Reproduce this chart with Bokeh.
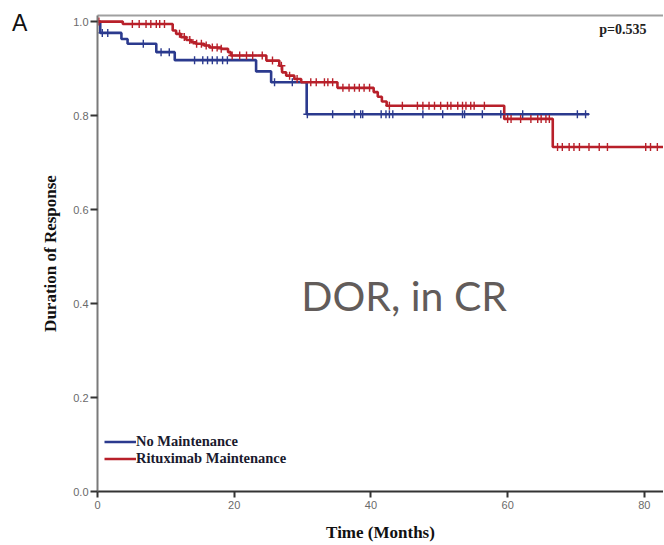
import numpy as np
from bokeh.plotting import figure
from bokeh.models import Range1d, FixedTicker, LinearAxis, Label, Legend, LegendItem
from bokeh.embed import file_html
from bokeh.resources import INLINE

# ---- data ----
blue_t = [0, 0.4, 3.5, 4.4, 8.6, 11.3, 23.2, 25.4, 30.6]
blue_s = [1.0, 0.976, 0.963, 0.953, 0.935, 0.918, 0.894, 0.871, 0.803]
blue_end = 71.9
blue_cens = [0.7, 1.5, 6.7, 9.3, 10.5, 14.2, 15.4, 16.1, 16.8, 17.5, 18.3, 19.0,
             25.9, 28.5, 30.7, 34.4, 37.6, 38.5, 38.8, 41.5, 42.2, 42.7, 43.2,
             47.6, 50.5, 53.4, 53.7, 56.3, 59.0, 62.2, 70.2, 71.4]

red_t = [0, 3.7, 11.0, 11.5, 12.2, 13.0, 13.7, 14.4, 15.6, 16.4, 18.1, 19.1, 19.5,
         24.7, 26.6, 27.0, 27.6, 28.8, 29.8, 35.1, 40.4, 41.0, 41.6, 42.3, 59.5, 66.6]
red_s = [1.0, 0.995, 0.981, 0.974, 0.967, 0.961, 0.956, 0.953, 0.949, 0.945, 0.942, 0.935, 0.928,
         0.917, 0.906, 0.892, 0.885, 0.878, 0.871, 0.859, 0.850, 0.840, 0.830, 0.821, 0.793, 0.733]
red_end = 83.0
red_cens = [0.2, 5.1, 6.1, 7.1, 7.8, 8.6, 9.1, 9.8, 12.0, 12.7, 13.5, 14.5, 15.2, 15.9,
            16.8, 17.5, 18.1, 19.7, 20.8, 21.8, 22.7, 24.1, 25.6, 26.9, 28.1, 29.2,
            31.2, 32.0, 33.2, 33.7, 34.4, 35.9, 36.8, 37.6, 38.3, 39.0, 39.8, 42.7,
            44.6, 46.8, 47.6, 48.5, 49.3, 50.2, 51.2, 51.7, 52.7, 53.4, 53.9, 54.6,
            55.1, 56.6, 60.0, 60.5, 61.9, 63.4, 64.4, 64.9, 65.6, 66.1, 67.3, 68.0,
            69.0, 69.7, 70.5, 71.9, 73.4, 74.6, 80.2, 80.9, 81.9]

x_ticks = [0, 20, 40, 60, 80]
y_ticks = [0.0, 0.2, 0.4, 0.6, 0.8, 1.0]
series_names = ["No Maintenance", "Rituximab Maintenance"]
p_text = "p=0.535"
panel_text = "A"
overlay_text = "DOR, in CR"

BLUE = "#2b3a8e"
RED = "#b8202a"


def step_xy(t, s, end):
    return list(t) + [end], list(s) + [s[-1]]


def level_at(t, s, times):
    idx = np.searchsorted(np.array(t), np.array(times), side="right") - 1
    return [s[i] for i in idx]


p = figure(frame_width=566, frame_height=476, output_backend="svg", toolbar_location=None,
           x_range=Range1d(0, 82.8), y_range=Range1d(0, 1.013),
           min_border_left=97, min_border_right=0, min_border_top=15, min_border_bottom=40)
p.outline_line_color = None
p.xgrid.visible = False
p.ygrid.visible = False
p.background_fill_color = "white"
p.border_fill_color = "white"

bx, by = step_xy(blue_t, blue_s, blue_end)
rx, ry = step_xy(red_t, red_s, red_end)
r_blue = p.step(bx, by, mode="after", line_color=BLUE, line_width=2.6)
r_red = p.step(rx, ry, mode="after", line_color=RED, line_width=2.6)
p.scatter(blue_cens, level_at(blue_t, blue_s, blue_cens), marker="cross", size=8,
          line_color=BLUE, line_width=1.4)
p.scatter(red_cens, level_at(red_t, red_s, red_cens), marker="cross", size=8,
          line_color=RED, line_width=1.4)

# axes
for ax in (p.xaxis[0], p.yaxis[0]):
    ax.minor_tick_line_color = None
    ax.major_tick_in = 0
    ax.major_tick_line_width = 2
    ax.major_tick_line_color = "#333333"
    ax.major_label_text_font = "Liberation Sans"
    ax.major_label_text_font_size = "11px"
    ax.major_label_text_color = "#6a6a6a"
    ax.axis_label_text_font = "Liberation Serif"
    ax.axis_label_text_font_style = "bold"
    ax.axis_label_text_font_size = "17px"
    ax.axis_label_text_color = "#111111"

p.xaxis.ticker = FixedTicker(ticks=x_ticks)
p.yaxis.ticker = FixedTicker(ticks=y_ticks)
p.yaxis.major_label_overrides = {v: f"{v:.1f}" for v in y_ticks}
p.xaxis.major_tick_out = 6
p.yaxis.major_tick_out = 7
p.xaxis.axis_line_color = "#333333"
p.xaxis.axis_line_width = 2
p.yaxis.axis_line_color = "#7a7a7a"
p.yaxis.axis_line_width = 2
p.xaxis.major_label_standoff = 3
p.yaxis.major_label_standoff = 2
p.xaxis.axis_label = "Time (Months)"
p.yaxis.axis_label = "Duration of Response"
p.xaxis.axis_label_standoff = 11
p.yaxis.axis_label_standoff = 10

top = LinearAxis(axis_line_color="#a0a0a0", axis_line_width=2,
                 major_tick_line_color=None, minor_tick_line_color=None,
                 major_label_text_font_size="0px", major_label_standoff=0,
                 ticker=FixedTicker(ticks=[]))
p.add_layout(top, "above")

legend = Legend(items=[LegendItem(label=series_names[0], renderers=[r_blue]),
                       LegendItem(label=series_names[1], renderers=[r_red])],
                location=(7, 24), glyph_width=32, glyph_height=17, label_height=17,
                label_standoff=0, spacing=0, padding=0, margin=0,
                border_line_alpha=0, background_fill_alpha=0,
                label_text_font="Liberation Serif", label_text_font_style="bold",
                label_text_font_size="14.5px", label_text_color="#1a1a2e")
p.add_layout(legend)

p.add_layout(Label(x=73.4, y=0.968, text=p_text, text_font="Liberation Serif",
                   text_font_style="bold", text_font_size="14px", text_color="#222222",
                   text_baseline="bottom"))
p.add_layout(Label(x=29.8, y=0.366, text=overlay_text, text_font="Lato",
                   text_font_size="41px", text_color="#625c5a", text_baseline="bottom"))
# panel letter sits outside the frame: put it in the left side panel so it is not clipped
p.add_layout(Label(x=-12.5, y=0.969, text=panel_text, text_font="Liberation Sans",
                   text_font_size="23px", text_color="#111111", text_baseline="bottom"),
             "left")

open("out.html", "w").write(file_html(p, INLINE))
